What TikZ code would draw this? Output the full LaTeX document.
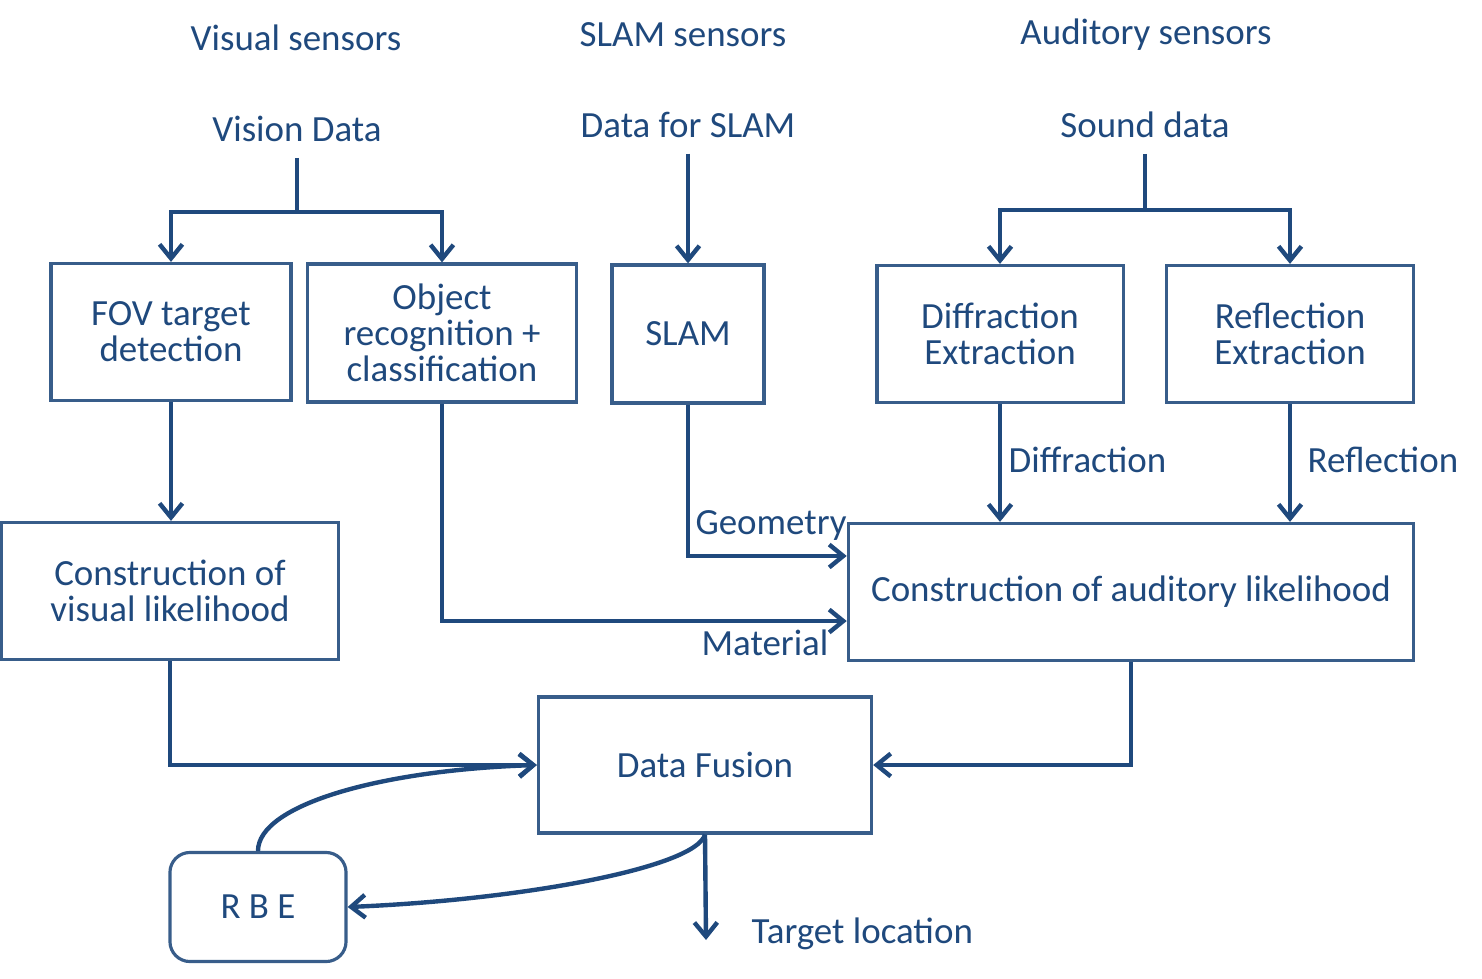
\documentclass[tikz,border=0pt]{standalone}
\usepackage{fontspec}
\setmainfont{Carlito}
\usepackage{xcolor}
\usetikzlibrary{arrows.meta,positioning}
\definecolor{boxblue}{HTML}{385D8A}
\definecolor{arrowblue}{HTML}{1F497D}

\begin{document}
\begin{tikzpicture}[x=0.01cm,y=-0.01cm,
    font=\fontsize{10.5}{10.3}\selectfont,text=arrowblue,
    block/.style={draw=boxblue,line width=0.9pt,inner sep=0pt,align=center},
    plain/.style={draw=arrowblue,line width=1.25pt},
    flow/.style={plain,-{Straight Barb[length=4pt,width=6.5pt]}}]
        \useasboundingbox (0,0) rectangle (1482,979);
        % sensor headings and data
        \node (vissens) at (296,38) {Visual sensors};
        \node (slamsens) at (683,35) {SLAM sensors};
        \node (audsens) at (1146,35) {Auditory sensors};
        \node (vdata) at (297,129) {Vision Data};
        \node (sdata) at (688,125) {Data for SLAM};
        \node (snddata) at (1145,125) {Sound data};
        % processing blocks
        \node[block,minimum width=2.40cm,minimum height=1.37cm] (fov) at (171,332) {FOV target\\detection};
        \node[block,minimum width=2.69cm,minimum height=1.38cm] (obj) at (442,333) {Object\\recognition +\\classification};
        \node[block,minimum width=1.52cm,minimum height=1.38cm] (slam) at (688,334) {SLAM};
        \node[block,minimum width=2.46cm,minimum height=1.37cm] (diff) at (1000,334) {Diffraction\\Extraction};
        \node[block,minimum width=2.47cm,minimum height=1.37cm] (refl) at (1290,334) {Reflection\\Extraction};
        \node[block,minimum width=3.37cm,minimum height=1.37cm] (vislik) at (170,591) {Construction of\\visual likelihood};
        \node[block,minimum width=5.65cm,minimum height=1.37cm] (audlik) at (1131,592) {Construction of auditory likelihood};
        \node[block,minimum width=3.33cm,minimum height=1.36cm] (fusion) at (705,765) {Data Fusion};
        \node[block,rounded corners=0.2cm,minimum width=1.76cm,minimum height=1.09cm] (rbe) at (258,907) {R B E};
        % branch points and free end
        \coordinate (vsplit) at (297,212);
        \coordinate (ssplit) at (1145,210);
        \coordinate (target) at (706,940);
        % connectors
        \draw[plain] ([yshift=-1pt]vdata.south) -- (vsplit);
        \draw[flow] (vsplit) -| (fov.north);
        \draw[flow] (vsplit) -| (obj.north);
        \draw[flow] ([yshift=-1pt]sdata.south) -- (slam.north);
        \draw[plain] ([yshift=-1pt]snddata.south) -- (ssplit);
        \draw[flow] (ssplit) -| (diff.north);
        \draw[flow] (ssplit) -| (refl.north);
        \draw[flow] (fov.south) -- (fov.south |- vislik.north);
        \draw[flow] (slam.south) |- ([yshift=0.36cm]audlik.west);
        \draw[flow] (obj.south) |- ([yshift=-0.29cm]audlik.west);
        \draw[flow] (diff.south) -- (diff.south |- audlik.north);
        \draw[flow] (refl.south) -- (refl.south |- audlik.north);
        \draw[flow] (vislik.south) |- (fusion.west);
        \draw[flow] (audlik.south) |- (fusion.east);
        \draw[flow] (fusion.south) -- (target);
        \draw[flow] (fusion.south) .. controls (695,868) and (520,900) .. (rbe.east);
        \draw[flow] (rbe.north) .. controls (258,805) and (380,770) .. (fusion.west);
        % connector labels
        \node[anchor=west,inner sep=0pt] (difflbl) at (1008,460) {Diffraction};
        \node[anchor=west,inner sep=0pt] (refllbl) at (1307,460) {Reflection};
        \node[inner sep=0pt] (geolbl) at (771,525) {Geometry};
        \node[inner sep=0pt] (matlbl) at (765,643) {Material};
        \node[anchor=west,inner sep=0pt] (tgtlbl) at (751,934) {Target location};
      \end{tikzpicture}
\end{document}
